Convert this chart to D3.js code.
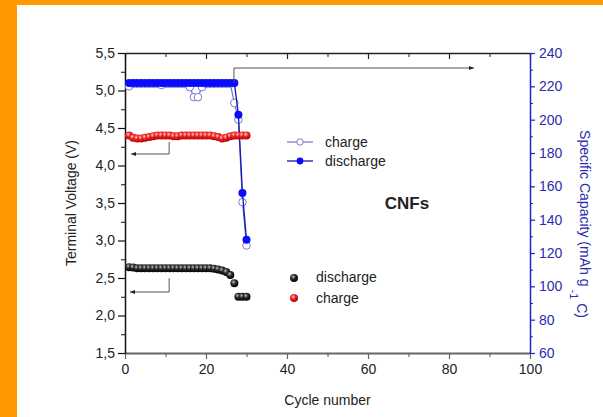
<!DOCTYPE html>
<html>
<head>
<meta charset="utf-8">
<script src="https://cdn.jsdelivr.net/npm/d3@7"></script>
<style>
  body { margin: 0; background: #fff; }
  svg { display: block; }
  text { font-family: Arial, "Liberation Sans", Helvetica, sans-serif; }
</style>
</head>
<body>
<svg id="chart" width="603" height="417"></svg>
<script>
// Cycle index shared by all series
const cycles = [1,2,3,4,5,6,7,8,9,10,11,12,13,14,15,16,17,18,19,20,21,22,23,24,25,26,27,28,29,30];

// Terminal voltage (V), left axis
const dischargeVoltage = [2.645,2.64,2.63,2.63,2.63,2.63,2.63,2.63,2.63,2.63,2.63,2.63,2.63,2.63,2.63,
                          2.63,2.63,2.63,2.63,2.63,2.63,2.625,2.615,2.60,2.58,2.54,2.43,2.25,2.25,2.25];
const chargeVoltage    = [4.40,4.37,4.36,4.36,4.37,4.38,4.39,4.40,4.40,4.40,4.40,4.39,4.39,4.40,4.40,
                          4.40,4.40,4.40,4.40,4.40,4.40,4.39,4.38,4.36,4.37,4.39,4.40,4.40,4.40,4.40];

// Specific capacity (mAh g-1), right axis
const chargeCapacity    = [220.0,221.5,221.5,221.5,221.5,221.5,221.5,221.5,220.8,221.5,221.5,221.5,221.5,221.5,221.5,
                           219.5,213.5,213.5,219.5,221.5,221.5,221.5,221.5,221.5,221.5,221.5,210.0,200.0,150.5,124.5];
const dischargeCapacity = [222,222,222,222,222,222,222,222,222,222,222,222,222,222,222,
                           222,222,222,222,222,222,222,222,222,222,222,222,203,156,128];

// Axis ticks
const cycleTicks = [0,20,40,60,80,100];
const cycleMinor = [10,30,50,70,90];
const voltageTicks = [1.5,2.0,2.5,3.0,3.5,4.0,4.5,5.0,5.5];
const voltageMinor = [1.75,2.25,2.75,3.25,3.75,4.25,4.75,5.25];
const capacityTicks = [60,80,100,120,140,160,180,200,220,240];
const capacityMinor = [70,90,110,130,150,170,190,210,230];

const svg = d3.select("#chart");
const W = 603, H = 417;
const plot = { left: 125, right: 530, top: 53, bottom: 353 };

const blueAxis = "#2323c8";
const blueText = "#2b2bb0";

// Orange frame strips
svg.append("rect").attr("x", 0).attr("y", 0).attr("width", W).attr("height", H).attr("fill", "#fff");
svg.append("rect").attr("x", 0).attr("y", 0).attr("width", 17).attr("height", H).attr("fill", "#ff9900");
svg.append("rect").attr("x", 0).attr("y", 0).attr("width", W).attr("height", 5).attr("fill", "#ff9900");

const x = d3.scaleLinear().domain([0, 100]).range([plot.left, plot.right]);
const yV = d3.scaleLinear().domain([1.5, 5.5]).range([plot.bottom, plot.top]);
const yC = d3.scaleLinear().domain([60, 240]).range([plot.bottom, plot.top]);

const commaFmt = d => d3.format(".1f")(d).replace(".", ",");

function styleAxis(g, color, textColor, width) {
  g.select(".domain").attr("stroke", color).attr("stroke-width", width);
  g.selectAll(".tick line").attr("stroke", color).attr("stroke-width", 1.2);
  g.selectAll(".tick text").attr("fill", textColor).attr("font-size", 14)
    .attr("font-family", "Arial, 'Liberation Sans', sans-serif");
}

// Top frame line with inward ticks
const gTop = svg.append("g").attr("transform", `translate(0,${plot.top})`)
  .call(d3.axisBottom(x).tickValues(cycleTicks).tickSize(6).tickSizeOuter(0).tickFormat(""));
styleAxis(gTop, "#222", "#222", 1.5);
svg.append("g").attr("transform", `translate(0,${plot.top})`)
  .call(d3.axisBottom(x).tickValues(cycleMinor).tickSize(4).tickSizeOuter(0).tickFormat(""))
  .call(g => { g.select(".domain").remove(); g.selectAll("line").attr("stroke", "#222"); });

// Bottom axis
const gBot = svg.append("g").attr("transform", `translate(0,${plot.bottom})`)
  .call(d3.axisBottom(x).tickValues(cycleTicks).tickSize(6).tickSizeOuter(0).tickPadding(5));
styleAxis(gBot, "#666", "#222", 2);
svg.append("g").attr("transform", `translate(0,${plot.bottom})`)
  .call(d3.axisBottom(x).tickValues(cycleMinor).tickSize(4).tickSizeOuter(0).tickFormat(""))
  .call(g => { g.select(".domain").remove(); g.selectAll("line").attr("stroke", "#555"); });

// Left voltage axis
const gLeft = svg.append("g").attr("transform", `translate(${plot.left},0)`)
  .call(d3.axisLeft(yV).tickValues(voltageTicks).tickSize(7).tickSizeOuter(0).tickPadding(3).tickFormat(commaFmt));
styleAxis(gLeft, "#111", "#222", 1.5);
svg.append("g").attr("transform", `translate(${plot.left},0)`)
  .call(d3.axisLeft(yV).tickValues(voltageMinor).tickSize(4).tickSizeOuter(0).tickFormat(""))
  .call(g => { g.select(".domain").remove(); g.selectAll("line").attr("stroke", "#111"); });

// Right capacity axis
const gRight = svg.append("g").attr("transform", `translate(${plot.right},0)`)
  .call(d3.axisRight(yC).tickValues(capacityTicks).tickSize(5).tickSizeOuter(0).tickPadding(4));
styleAxis(gRight, blueAxis, blueText, 1.5);
svg.append("g").attr("transform", `translate(${plot.right},0)`)
  .call(d3.axisRight(yC).tickValues(capacityMinor).tickSize(3).tickSizeOuter(0).tickFormat(""))
  .call(g => { g.select(".domain").remove(); g.selectAll("line").attr("stroke", blueAxis); });

// Axis titles
svg.append("text").attr("x", (plot.left + plot.right) / 2).attr("y", 405)
  .attr("text-anchor", "middle").attr("font-size", 14).attr("fill", "#222").text("Cycle number");
svg.append("text").attr("transform", `translate(76,${(plot.top + plot.bottom) / 2}) rotate(-90)`)
  .attr("text-anchor", "middle").attr("font-size", 14).attr("fill", "#222").text("Terminal Voltage (V)");
const rTitle = svg.append("text").attr("transform", "translate(580,224) rotate(90)")
  .attr("text-anchor", "middle").attr("font-size", 14).attr("fill", blueText);
rTitle.append("tspan").text("Specific Capacity (mAh g");
rTitle.append("tspan").attr("font-size", 11).attr("dy", 10).text(" -1");
rTitle.append("tspan").attr("dy", -7).text(" C)");

// Gradients for the shaded voltage markers
const defs = svg.append("defs");
function sphere(id, hi, mid, lo) {
  const g = defs.append("radialGradient").attr("id", id).attr("cx", "40%").attr("cy", "35%").attr("r", "65%");
  g.append("stop").attr("offset", "0%").attr("stop-color", hi);
  g.append("stop").attr("offset", "45%").attr("stop-color", mid);
  g.append("stop").attr("offset", "100%").attr("stop-color", lo);
}
sphere("ballBlack", "#bdbdbd", "#2a2a2a", "#000");
sphere("ballRed", "#ffd0d0", "#ee2222", "#b00000");
defs.append("marker").attr("id", "arrow").attr("viewBox", "0 0 10 10").attr("refX", 10).attr("refY", 5)
  .attr("markerWidth", 7).attr("markerHeight", 5).attr("orient", "auto-start-reverse")
  .attr("markerUnits", "userSpaceOnUse")
  .append("path").attr("d", "M0,1 L10,5 L0,9 Z").attr("fill", "#222");

// Capacity: charge (open) then discharge (filled) on top
const lineC = () => d3.line().x((d, i) => x(cycles[i])).y(d => yC(d));
svg.append("path").datum(chargeCapacity).attr("d", lineC()).attr("fill", "none")
  .attr("stroke", "#7070d0").attr("stroke-width", 1.2);
svg.append("g").selectAll("circle").data(chargeCapacity).join("circle")
  .attr("cx", (d, i) => x(cycles[i])).attr("cy", d => yC(d)).attr("r", 3.8)
  .attr("fill", "#fff").attr("stroke", "#7a7ad8").attr("stroke-width", 1);

svg.append("path").datum(dischargeCapacity).attr("d", lineC()).attr("fill", "none")
  .attr("stroke", "#1515b0").attr("stroke-width", 1.3);
svg.append("g").selectAll("circle").data(dischargeCapacity).join("circle")
  .attr("cx", (d, i) => x(cycles[i])).attr("cy", d => yC(d)).attr("r", 4)
  .attr("fill", "#0a0aff");

// Voltage: charge (red) and discharge (black)
svg.append("g").selectAll("circle").data(chargeVoltage).join("circle")
  .attr("cx", (d, i) => x(cycles[i])).attr("cy", d => yV(d)).attr("r", 4)
  .attr("fill", "url(#ballRed)");
svg.append("g").selectAll("circle").data(dischargeVoltage).join("circle")
  .attr("cx", (d, i) => x(cycles[i])).attr("cy", d => yV(d)).attr("r", 4)
  .attr("fill", "url(#ballBlack)");

// Guide arrows pointing to the matching axis
const arrowStyle = p => p.attr("fill", "none").attr("stroke", "#555").attr("stroke-width", 1)
  .attr("marker-end", "url(#arrow)");
svg.append("path").attr("d", `M${x(26.9)},${yC(222)} V68 H474`).call(arrowStyle);
svg.append("path").attr("d", `M${x(10.9)},${yV(4.38) + 5} V154 H131`).call(arrowStyle);
svg.append("path").attr("d", `M${x(10.9)},${yV(2.63) + 10} V292 H130`).call(arrowStyle);

// Capacity legend
const legC = svg.append("g");
legC.append("line").attr("x1", 287).attr("x2", 313).attr("y1", 142).attr("y2", 142)
  .attr("stroke", "#7070d0").attr("stroke-width", 1.2);
legC.append("circle").attr("cx", 300).attr("cy", 142).attr("r", 3.2)
  .attr("fill", "#fff").attr("stroke", "#7a7ad8");
legC.append("text").attr("x", 325).attr("y", 147).attr("font-size", 14).attr("fill", "#222").text("charge");
legC.append("line").attr("x1", 287).attr("x2", 313).attr("y1", 161).attr("y2", 161)
  .attr("stroke", "#1515b0").attr("stroke-width", 1.3);
legC.append("circle").attr("cx", 300).attr("cy", 161).attr("r", 3.4).attr("fill", "#0a0aff");
legC.append("text").attr("x", 325).attr("y", 166).attr("font-size", 14).attr("fill", "#222").text("discharge");

// Sample label
svg.append("text").attr("x", 407).attr("y", 209).attr("text-anchor", "middle")
  .attr("font-size", 17).attr("font-weight", "bold").attr("fill", "#222").text("CNFs");

// Voltage legend
const legV = svg.append("g");
legV.append("circle").attr("cx", 294).attr("cy", 278).attr("r", 4).attr("fill", "url(#ballBlack)");
legV.append("text").attr("x", 316).attr("y", 282).attr("font-size", 14).attr("fill", "#222").text("discharge");
legV.append("circle").attr("cx", 294).attr("cy", 298).attr("r", 4).attr("fill", "url(#ballRed)");
legV.append("text").attr("x", 316).attr("y", 303).attr("font-size", 14).attr("fill", "#222").text("charge");
</script>
</body>
</html>
